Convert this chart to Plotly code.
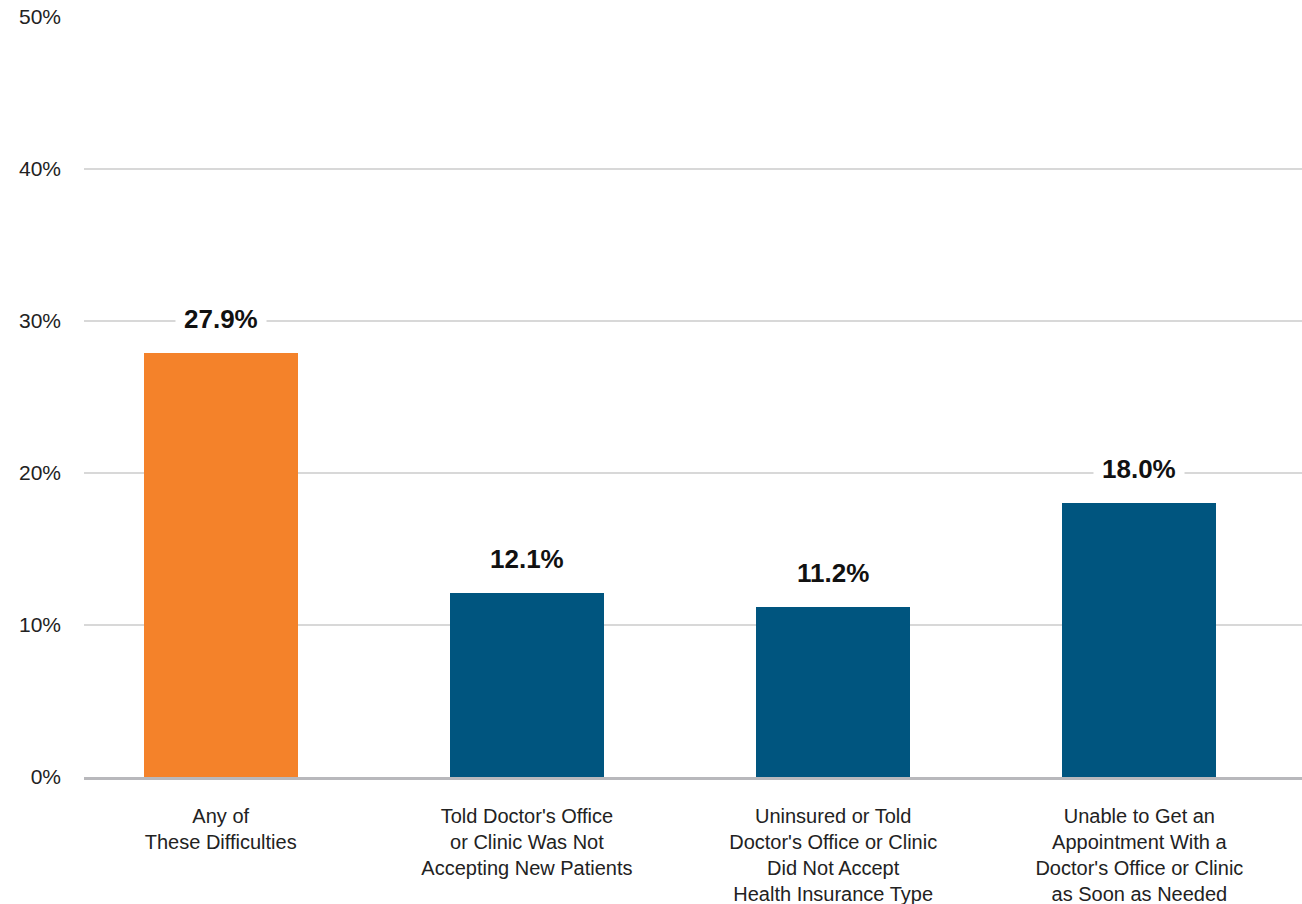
import plotly.graph_objects as go

# Share of adults reporting each difficulty getting care
categories = [
    "Any of<br>These Difficulties",
    "Told Doctor's Office<br>or Clinic Was Not<br>Accepting New Patients",
    "Uninsured or Told<br>Doctor's Office or Clinic<br>Did Not Accept<br>Health Insurance Type",
    "Unable to Get an<br>Appointment With a<br>Doctor's Office or Clinic<br>as Soon as Needed",
]
values = [27.9, 12.1, 11.2, 18.0]
bar_colors = ["#F4822A", "#00557F", "#00557F", "#00557F"]
y_ticks = [0, 10, 20, 30, 40, 50]
y_tick_labels = ["0%", "10%", "20%", "30%", "40%", "50%"]

fig = go.Figure()
fig.add_trace(go.Bar(
    x=categories,
    y=values,
    marker=dict(color=bar_colors, line=dict(width=0)),
    width=0.503,
    hoverinfo="skip",
))

for cat, val in zip(categories, values):
    fig.add_annotation(
        x=cat, y=val, yshift=34,
        text=f"<b>{val:.1f}%</b>",
        showarrow=False,
        xanchor="center", yanchor="middle",
        bgcolor="white", borderpad=8,
        font=dict(family="Liberation Sans, Arial, sans-serif", size=26, color="#111111"),
    )

fig.update_layout(
    width=1302, height=904,
    margin=dict(l=84, r=0, t=16, b=127),
    paper_bgcolor="white", plot_bgcolor="white",
    showlegend=False,
    bargap=0,
    font=dict(family="Liberation Sans, Arial, sans-serif", color="#222222"),
)

fig.update_xaxes(
    type="category",
    range=[-0.4464, 3.531],
    showgrid=False,
    showline=True, linecolor="#B8B8BC", linewidth=3,
    ticks="", ticklabelstandoff=19,
    tickfont=dict(size=20, color="#222222"),
    automargin=False,
)

fig.update_yaxes(
    range=[0, 50.05],
    tickvals=y_ticks, ticktext=y_tick_labels,
    showgrid=True, gridcolor="#D8D8D8", gridwidth=1.5,
    zeroline=False, showline=False,
    ticks="", ticklabelstandoff=22,
    tickfont=dict(size=21, color="#222222"),
    automargin=False,
)

fig.write_html("out.html")
